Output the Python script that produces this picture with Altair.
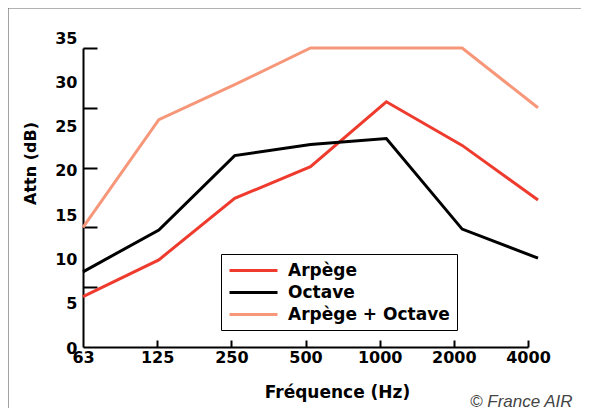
import altair as alt
import pandas as pd

freqs = ["63", "125", "250", "500", "1000", "2000", "4000"]
arpege = [5.9, 10.2, 17.4, 21.1, 28.7, 23.6, 17.2]
octave = [8.8, 13.7, 22.4, 23.7, 24.4, 13.8, 10.4]
arpege_octave = [14.0, 26.6, 30.7, 35.0, 35.0, 35.0, 28.0]
series_names = ["Arpège", "Octave", "Arpège + Octave"]
series_colors = ["#EE3B2E", "#000000", "#F7977A"]
y_label_values = [0, 5, 10, 15, 20, 25, 30, 35]
y_tick_values = [7, 14, 21, 28, 35]
x_tick_values = freqs[1:]

rows = []
for name, vals in zip(series_names, [arpege, octave, arpege_octave]):
    for f, v in zip(freqs, vals):
        rows.append({"freq": f, "value": v, "series": name})
df = pd.DataFrame(rows)

FONT = "DejaVu Sans"
W, H = 455, 299

border = alt.Chart(pd.DataFrame({"a": [0]})).mark_rect(
    filled=False, stroke="#666666", strokeWidth=1.2
).encode(x=alt.value(-75), x2=alt.value(530), y=alt.value(-40), y2=alt.value(420))

lines = alt.Chart(df).mark_line(strokeWidth=3).encode(
    x=alt.X("freq:O", sort=freqs,
            scale=alt.Scale(type="point", padding=0, range=[0, W]), axis=None),
    y=alt.Y("value:Q", scale=alt.Scale(domain=[0, 35], nice=False, zero=False),
            axis=alt.Axis(orient="left", labels=False, ticks=False, domain=True,
                          domainColor="black", domainWidth=2, title=None, grid=False)),
    color=alt.Color("series:N", sort=series_names,
                    scale=alt.Scale(domain=series_names, range=series_colors),
                    legend=alt.Legend(
                        title=None, orient="none", legendX=138, legendY=206,
                        strokeColor="black", padding=7, fillColor="white",
                        symbolType="M-1,0L5,0", symbolSize=256, symbolStrokeWidth=3,
                        labelOffset=41, labelFontSize=17, labelFont=FONT,
                        labelFontWeight="bold", labelColor="black", rowPadding=4,
                        labelLimit=400)),
)

xlab = alt.Chart(pd.DataFrame({"freq": freqs})).mark_point(opacity=0).encode(
    x=alt.X("freq:O", sort=freqs,
            scale=alt.Scale(type="point", padding=0, range=[0, 445]),
            axis=alt.Axis(orient="bottom", title="Fréquence (Hz)", ticks=False, tickSize=0,
                          domain=True, domainColor="black", domainWidth=2,
                          labelAngle=0, labelFont=FONT, labelFontSize=16,
                          labelFontWeight="bold", labelColor="black", labelPadding=2,
                          titleFont=FONT, titleFontSize=17, titleFontWeight="bold",
                          titleColor="black", titleX=254, titleY=45,
                          titleAlign="center", titleBaseline="middle", grid=False))
)

xtick = alt.Chart(pd.DataFrame({"freq": freqs})).mark_point(opacity=0).encode(
    x=alt.X("freq:O", sort=freqs,
            scale=alt.Scale(type="point", padding=0, range=[0, 445]),
            axis=alt.Axis(orient="bottom", values=x_tick_values, offset=-7, tickSize=7,
                          tickWidth=2, tickColor="black", labels=False, domain=False,
                          title=None, grid=False))
)

ylab = alt.Chart(pd.DataFrame({"v": y_label_values})).mark_point(opacity=0).encode(
    y=alt.Y("v:Q", scale=alt.Scale(domain=[0, 35], range=[300, -10], nice=False, zero=False),
            axis=alt.Axis(orient="left", values=y_label_values, ticks=False, tickSize=0,
                          domain=False, labelFont=FONT, labelFontSize=16,
                          labelFontWeight="bold", labelColor="black", labelPadding=6,
                          labelFlush=False, labelOverlap=False, grid=False,
                          title="Attn (dB)", titleFont=FONT, titleFontSize=16,
                          titleFontWeight="bold", titleColor="black", titleX=-53,
                          titleY=115, titleAngle=270, titleAlign="center",
                          titleBaseline="middle"))
)

ytick = alt.Chart(pd.DataFrame({"v": y_tick_values})).mark_point(opacity=0).encode(
    y=alt.Y("v:Q", scale=alt.Scale(domain=[0, 35], nice=False, zero=False),
            axis=alt.Axis(orient="left", values=y_tick_values, offset=-14, tickSize=14,
                          tickWidth=2, tickColor="black", labels=False, domain=False,
                          title=None, grid=False))
)

credit = alt.Chart(pd.DataFrame({"t": ["© France AIR"]})).mark_text(
    align="left", baseline="middle", font="Liberation Sans", fontStyle="italic",
    fontSize=17, color="#444444"
).encode(text="t:N", x=alt.value(387), y=alt.value(354))

chart = alt.layer(border, lines, xlab, xtick, ylab, ytick, credit).resolve_scale(
    x="independent", y="independent"
).properties(
    width=W, height=H,
    autosize=alt.AutoSizeParams(type="none"),
    padding={"left": 75, "top": 40, "right": 43, "bottom": 61},
).configure_view(stroke=None)

chart.save("out.html", embed_options={"renderer": "svg", "actions": False})
